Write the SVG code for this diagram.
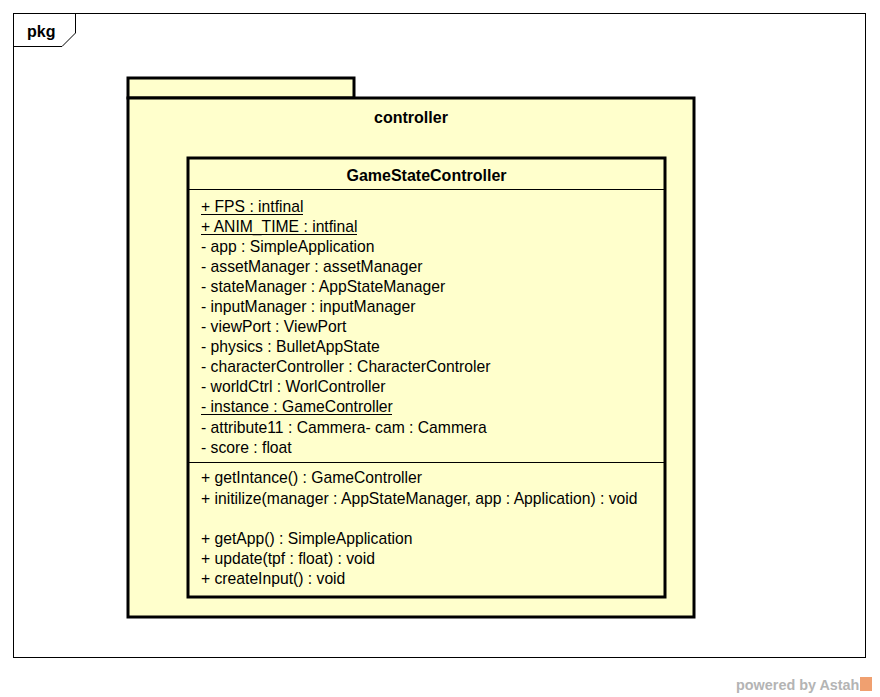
<svg xmlns="http://www.w3.org/2000/svg" width="880" height="697" viewBox="0 0 880 697">
<style>
.frame{fill:none;stroke:#000;stroke-width:1}
.thick{fill:#FFFFCC;stroke:#000;stroke-width:3}
.sep{stroke:#000;stroke-width:1}
.t{font-family:"Liberation Sans",Arial,sans-serif;font-size:15.7px;fill:#000}
.b{font-family:"Liberation Sans",Arial,sans-serif;font-size:16px;font-weight:bold;fill:#000}
.ul{stroke:#000;stroke-width:1}
.wm{font-family:"Liberation Sans",Arial,sans-serif;font-size:14.4px;font-weight:bold;fill:#b4b4b4}
</style>
<rect width="880" height="697" fill="#fff"/>
<g id="frame">
<rect class="frame" x="13.5" y="13.5" width="852" height="644"/>
<path class="frame" d="M13.5 46.5 H62 L75.5 33 V13.5"/>
<text class="b" x="27" y="37">pkg</text>
</g>
<g id="controller">
<rect class="thick" x="128" y="78" width="226" height="20"/>
<rect class="thick" x="128" y="98" width="566" height="519"/>
<text class="b" x="411" y="123" text-anchor="middle">controller</text>
</g>
<g id="GameStateController">
<rect class="thick" x="188" y="158" width="477" height="439"/>
<line class="sep" x1="189" y1="189.5" x2="664" y2="189.5"/>
<line class="sep" x1="189" y1="462.5" x2="664" y2="462.5"/>
<text class="b" x="426.5" y="181" text-anchor="middle">GameStateController</text>
<text class="t" x="201" y="212">+ FPS : intfinal</text>
<line class="ul" x1="201" y1="214.5" x2="303" y2="214.5"/>
<text class="t" x="201" y="232">+ ANIM_TIME : intfinal</text>
<line class="ul" x1="201" y1="234.5" x2="357" y2="234.5"/>
<text class="t" x="201" y="252">- app : SimpleApplication</text>
<text class="t" x="201" y="272">- assetManager : assetManager</text>
<text class="t" x="201" y="292">- stateManager : AppStateManager</text>
<text class="t" x="201" y="312">- inputManager : inputManager</text>
<text class="t" x="201" y="332">- viewPort : ViewPort</text>
<text class="t" x="201" y="352">- physics : BulletAppState</text>
<text class="t" x="201" y="372">- characterController : CharacterControler</text>
<text class="t" x="201" y="392">- worldCtrl : WorlController</text>
<text class="t" x="201" y="412">- instance : GameController</text>
<line class="ul" x1="201" y1="414.5" x2="392" y2="414.5"/>
<text class="t" x="201" y="433">- attribute11 : Cammera- cam : Cammera</text>
<text class="t" x="201" y="453">- score : float</text>
<text class="t" x="201" y="483">+ getIntance() : GameController</text>
<text class="t" x="201" y="504">+ initilize(manager : AppStateManager, app : Application) : void</text>
<text class="t" x="201" y="544">+ getApp() : SimpleApplication</text>
<text class="t" x="201" y="564">+ update(tpf : float) : void</text>
<text class="t" x="201" y="584">+ createInput() : void</text>
</g>
<g id="connectors"></g>
<g id="watermark">
<text class="wm" x="736" y="690">powered by Astah</text>
<rect x="860" y="677" width="12" height="14" fill="#f0a070"/>
</g>
</svg>
